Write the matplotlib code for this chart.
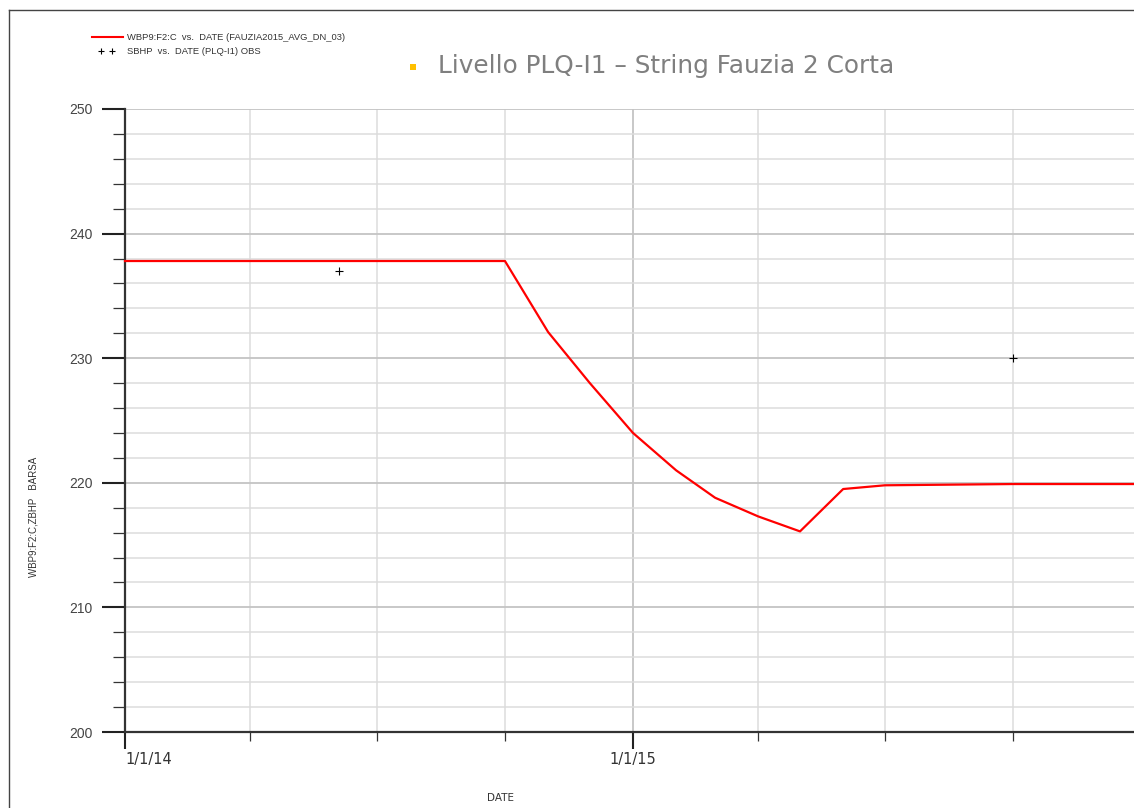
import numpy as np
import pandas as pd
import matplotlib
matplotlib.use("Agg")
import matplotlib.pyplot as plt
import matplotlib.dates as mdates
from matplotlib.ticker import MultipleLocator
from matplotlib.lines import Line2D
from matplotlib.patches import Rectangle

# simulated pressure (WBP9:F2:C) and observed SBHP, bar
sim_dates = pd.to_datetime([
    "2014-01-01", "2014-10-01", "2014-11-01", "2014-12-01", "2015-01-01",
    "2015-02-01", "2015-03-01", "2015-04-01", "2015-05-01", "2015-06-01",
    "2015-07-01", "2015-10-01", "2016-01-01",
])
sim_bhp = [237.8, 237.8, 232.1, 228.0, 224.0, 221.0, 218.8, 217.3, 216.1,
           219.5, 219.8, 219.9, 219.9]

obs_dates = pd.to_datetime(["2014-06-04", "2015-10-01"])
obs_bhp = [237.0, 230.0]

sim_label = "WBP9:F2:C  vs.  DATE (FAUZIA2015_AVG_DN_03)"
obs_label = "SBHP  vs.  DATE (PLQ-I1) OBS"
title = "Livello PLQ-I1 \u2013 String Fauzia 2 Corta"

W, H = 1134, 808
fig = plt.figure(figsize=(W / 100, H / 100), dpi=100)
fig.patch.set_facecolor("white")


def fit_width(txt, width_px):
    # rescale a text so it spans the given width in pixels
    r = fig.canvas.get_renderer()
    w = txt.get_window_extent(r).width
    txt.set_fontsize(txt.get_fontsize() * width_px / w)


x0, x1 = pd.Timestamp("2014-01-01"), pd.Timestamp("2016-01-01")
ax = fig.add_axes([125 / W, (H - 732) / H, 1016 / W, 623 / H])
ax.set_xlim(x0, x1)
ax.set_ylim(200, 250)

ax.plot(sim_dates, sim_bhp, color="#ff0000", lw=1.6, zorder=3, clip_on=False)
ax.plot(obs_dates, obs_bhp, ls="none", marker="+", color="black",
        ms=6, mew=0.8, zorder=4)

# grid: quarters on x, every 2 bar on y
ax.yaxis.set_major_locator(MultipleLocator(10))
ax.yaxis.set_minor_locator(MultipleLocator(2))
ax.xaxis.set_major_locator(mdates.YearLocator())
ax.xaxis.set_minor_locator(mdates.MonthLocator(bymonth=[4, 7, 10]))
fmt = mdates.DateFormatter("%-m/%-d/%y")
ax.xaxis.set_major_formatter(lambda v, pos: fmt(v) if v < mdates.date2num(x1) else "")

ax.grid(which="minor", color="#dcdcdc", lw=1.1, zorder=0)
ax.grid(which="major", color="#c4c4c4", lw=1.3, zorder=0)
ax.set_axisbelow(True)

for s in ["top", "right"]:
    ax.spines[s].set_visible(False)
for s in ["left", "bottom"]:
    ax.spines[s].set_color("#333333")
    ax.spines[s].set_linewidth(1.6)

ax.tick_params(axis="y", which="major", length=16.5, width=1.5, color="#222222",
               pad=7, labelsize=10, labelcolor="#444444")
ax.tick_params(axis="y", which="minor", length=8.6, width=0.9, color="#333333")
ax.tick_params(axis="x", which="major", length=12.5, width=1.5, color="#222222",
               pad=2, labelsize=10.5, labelcolor="#333333")
ax.tick_params(axis="x", which="minor", length=6.5, width=0.9, color="#333333")
for lab in ax.get_yticklabels():
    lab.set_fontfamily("Liberation Sans")

fig.canvas.draw()
xlabs = ax.get_xticklabels()
if xlabs:
    xlabs[0].set_horizontalalignment("left")

# axis titles
fig.text(33 / W, 1 - 517 / H, "WBP9:F2:C,ZBHP   BARSA", rotation=90,
         ha="center", va="center", fontsize=7, color="#333333",
         family="Liberation Sans")
fig.text(500 / W, 1 - 798 / H, "DATE", ha="center", va="center",
         fontsize=7.5, color="#333333")

# legend entries
fig.add_artist(Line2D([92 / W, 123 / W], [1 - 37 / H, 1 - 37 / H],
                      color="#ff0000", lw=1.5))
t1 = fig.text(127 / W, 1 - 37 / H, sim_label, ha="left", va="center",
              fontsize=6, color="#333333", family="Liberation Sans")
for px in (101, 112):
    fig.add_artist(Line2D([px / W], [1 - 51 / H], ls="none", marker="+",
                          color="black", ms=4, mew=0.8))
t2 = fig.text(127 / W, 1 - 51 / H, obs_label, ha="left", va="center",
              fontsize=6, color="#333333", family="Liberation Sans")
fit_width(t1, 218)
t2.set_fontsize(t1.get_fontsize())

# title with square bullet
fig.add_artist(Rectangle((410 / W, 1 - 70 / H), 6 / W, 6 / H,
                         transform=fig.transFigure, color="#ffc000", lw=0))
tt = fig.text(438 / W, 1 - 66 / H, title, ha="left", va="center",
              fontsize=17, color="#7f7f7f", family="DejaVu Sans")
fit_width(tt, 455)

# page frame
fig.add_artist(Line2D([9 / W, 9 / W], [0, 1 - 10 / H], color="#444444", lw=1))
fig.add_artist(Line2D([9 / W, 1], [1 - 10 / H, 1 - 10 / H], color="#444444", lw=1))

fig.savefig("out.png", dpi=100)
